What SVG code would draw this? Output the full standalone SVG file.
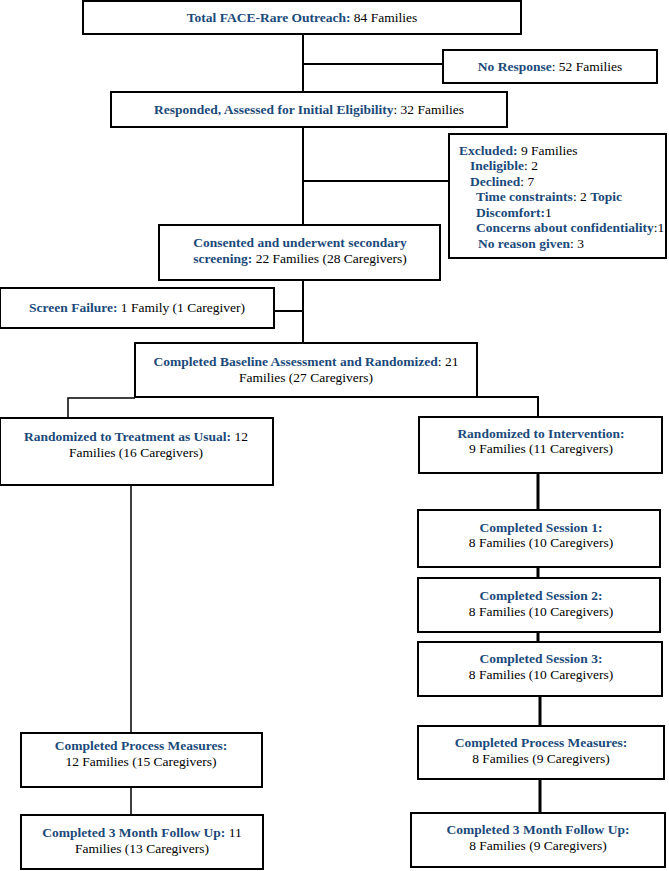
<svg xmlns="http://www.w3.org/2000/svg" width="669" height="871" viewBox="0 0 669 871">
<style>
.box{fill:#fff;stroke:#000;stroke-width:2}
text{font-family:"Liberation Serif","Times New Roman",serif;font-size:13.5px;fill:#000}
.c{text-anchor:middle}
.b{font-weight:bold;fill:#1B4A7A}
.ln{stroke:#000;stroke-width:2;fill:none}
.thin{stroke:#000;stroke-width:1.5;fill:none}
.thick{stroke:#000;stroke-width:3;fill:none}
</style>
<rect width="669" height="871" fill="#fff"/>
<g id="connectors">
<path class="ln" d="M303 34V92M303 64H443M303 127V225M303 181H449M303 280V343M274 311H303"/>
<path class="thin" d="M135 398H68V418M131 485V733M131 787V815"/>
<path class="ln" d="M477 397H538V417"/>
<path class="thick" d="M538 473V510M538 567V578M538 632V642M540 696V726M540 779V813"/>
</g>
<g id="n1"><rect class="box" x="83" y="1" width="438" height="33"/>
<text class="c" x="302" y="22"><tspan class="b">Total FACE-Rare Outreach:</tspan> 84 Families</text></g>
<g id="n2"><rect class="box" x="443" y="50" width="214" height="33"/>
<text class="c" x="550" y="71"><tspan class="b">No Response</tspan>: 52 Families</text></g>
<g id="n3"><rect class="box" x="111" y="92" width="396" height="35"/>
<text class="c" x="309" y="114"><tspan class="b">Responded, Assessed for Initial Eligibility</tspan>: 32 Families</text></g>
<g id="n4"><rect class="box" x="449" y="134" width="217" height="124"/>
<text x="459" y="155"><tspan class="b">Excluded:</tspan> 9 Families</text>
<text x="470" y="170"><tspan class="b">Ineligible</tspan>: 2</text>
<text x="470" y="186"><tspan class="b">Declined</tspan>: 7</text>
<text x="476" y="201"><tspan class="b">Time constraints</tspan>: 2 <tspan class="b">Topic</tspan></text>
<text x="476" y="217"><tspan class="b">Discomfort:</tspan>1</text>
<text x="476" y="232"><tspan class="b">Concerns about confidentiality</tspan>:1</text>
<text x="478" y="248"><tspan class="b">No reason given</tspan>: 3</text></g>
<g id="n5"><rect class="box" x="159" y="225" width="281" height="55"/>
<text class="c" x="300" y="247"><tspan class="b">Consented and underwent secondary</tspan></text>
<text class="c" x="300" y="263"><tspan class="b">screening:</tspan> 22 Families (28 Caregivers)</text></g>
<g id="n6"><rect class="box" x="0" y="288" width="274" height="40"/>
<text class="c" x="137" y="312"><tspan class="b">Screen Failure:</tspan> 1 Family (1 Caregiver)</text></g>
<g id="n7"><rect class="box" x="135" y="343" width="342" height="54"/>
<text class="c" x="306" y="366"><tspan class="b">Completed Baseline Assessment and Randomized</tspan>: 21</text>
<text class="c" x="306" y="382">Families (27 Caregivers)</text></g>
<g id="n8"><rect class="box" x="0" y="418" width="273" height="67"/>
<text class="c" x="136" y="441"><tspan class="b">Randomized to Treatment as Usual:</tspan> 12</text>
<text class="c" x="136" y="457">Families (16 Caregivers)</text></g>
<g id="n9"><rect class="box" x="419" y="417" width="243" height="56"/>
<text class="c" x="541" y="438"><tspan class="b">Randomized to Intervention:</tspan></text>
<text class="c" x="541" y="453">9 Families (11 Caregivers)</text></g>
<g id="n10"><rect class="box" x="418" y="510" width="242" height="57"/>
<text class="c" x="541" y="532"><tspan class="b">Completed Session 1:</tspan></text>
<text class="c" x="541" y="547">8 Families (10 Caregivers)</text></g>
<g id="n11"><rect class="box" x="418" y="578" width="242" height="54"/>
<text class="c" x="541" y="600"><tspan class="b">Completed Session 2:</tspan></text>
<text class="c" x="541" y="616">8 Families (10 Caregivers)</text></g>
<g id="n12"><rect class="box" x="418" y="642" width="244" height="54"/>
<text class="c" x="541" y="663"><tspan class="b">Completed Session 3:</tspan></text>
<text class="c" x="541" y="679">8 Families (10 Caregivers)</text></g>
<g id="n13"><rect class="box" x="21" y="733" width="241" height="54"/>
<text class="c" x="141" y="750"><tspan class="b">Completed Process Measures:</tspan></text>
<text class="c" x="141" y="766">12 Families (15 Caregivers)</text></g>
<g id="n14"><rect class="box" x="418" y="726" width="246" height="53"/>
<text class="c" x="541" y="747"><tspan class="b">Completed Process Measures:</tspan></text>
<text class="c" x="541" y="763">8 Families (9 Caregivers)</text></g>
<g id="n15"><rect class="box" x="21" y="815" width="242" height="54"/>
<text class="c" x="142" y="837"><tspan class="b">Completed 3 Month Follow Up:</tspan> 11</text>
<text class="c" x="142" y="853">Families (13 Caregivers)</text></g>
<g id="n16"><rect class="box" x="411" y="813" width="254" height="54"/>
<text class="c" x="538" y="834"><tspan class="b">Completed 3 Month Follow Up:</tspan></text>
<text class="c" x="538" y="850">8 Families (9 Caregivers)</text></g>
</svg>
